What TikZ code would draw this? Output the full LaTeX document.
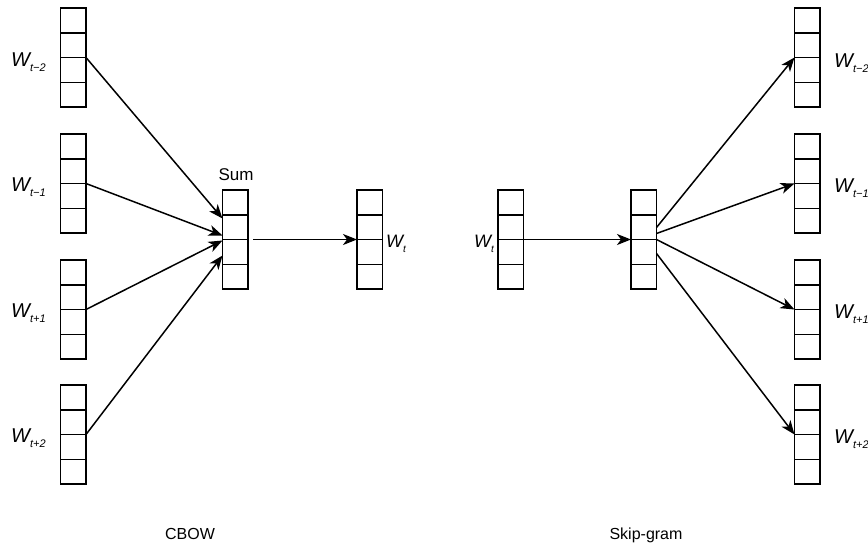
\documentclass[tikz,border=0pt]{standalone}
\usepackage{fontspec}
\setmainfont{Liberation Sans}
\usetikzlibrary{arrows.meta}
\tikzset{
  vecnode/.style={draw, line width=1.5pt, minimum width=25.5pt, minimum height=99pt, inner sep=0pt, outer sep=0pt, anchor=north west},
  arr/.style={line width=1.5pt, -{Stealth[length=14pt,width=11pt,inset=4pt]}},
  ln/.style={line width=1.5pt},
  wlab/.style={anchor=base west, inner sep=0pt},
  plain/.style={anchor=base, inner sep=0pt, font=\fontsize{16}{16}\selectfont}
}
\newcommand\wvec[3]{%
  \node[vecnode] (#1) at (#2,#3) {};
  \foreach \k in {1,2,3} \draw[ln] ([yshift=-\k*24.75pt]#1.north west) -- ([yshift=-\k*24.75pt]#1.north east);
}
\newcommand\wlabel[1]{{\fontsize{20}{20}\selectfont\itshape W}\raisebox{-5.5pt}{\fontsize{11}{11}\selectfont\itshape #1}}
\newcommand\wlabelsm[1]{{\fontsize{18}{18}\selectfont\itshape W}\raisebox{-5pt}{\fontsize{10}{10}\selectfont\itshape #1}}
\begin{document}
\begin{tikzpicture}[x=1pt,y=-1pt]
\useasboundingbox (0,0) rectangle (868,547);
% CBOW inputs
\wvec{L1}{60.5}{8}
\wvec{L2}{60.5}{134}
\wvec{L3}{60.5}{260}
\wvec{L4}{60.5}{385}
\node[wlab] (l1) at (11,66) {\wlabel{t−2}};
\node[wlab] (l2) at (11,191) {\wlabel{t−1}};
\node[wlab] (l3) at (11,317) {\wlabel{t+1}};
\node[wlab] (l4) at (11,442) {\wlabel{t+2}};
% Sum
\wvec{S}{222.5}{190}
\node[plain, font=\fontsize{17}{17}\selectfont] (sumlab) at (236,180) {Sum};
% CBOW output
\wvec{O}{357}{190}
\node[wlab] (olab) at (386,247) {\wlabelsm{t}};
\coordinate (sout) at ([xshift=5pt]S.east);
% arrows CBOW
\draw[arr] (L1.east) -- ([yshift=21pt]S.west);
\draw[arr] (L2.east) -- ([yshift=4pt]S.west);
\draw[arr] (L3.east) -- ([yshift=-1pt]S.west);
\draw[arr] (L4.east) -- ([yshift=-16pt]S.west);
\draw[arr] (sout) -- (O.west);
% Skip-gram
\wvec{I}{498}{190}
\node[wlab] (ilab) at (474,247) {\wlabelsm{t}};
\wvec{H}{631}{190}
\wvec{R1}{794.5}{8}
\wvec{R2}{794.5}{134}
\wvec{R3}{794.5}{260}
\wvec{R4}{794.5}{385}
\node[wlab] (r1) at (834,67) {\wlabel{t−2}};
\node[wlab] (r2) at (834,192) {\wlabel{t−1}};
\node[wlab] (r3) at (834,318) {\wlabel{t+1}};
\node[wlab] (r4) at (834,443) {\wlabel{t+2}};
\draw[arr] (I.east) -- (H.west);
\draw[arr] ([yshift=12pt]H.east) -- (R1.west);
\draw[arr] ([yshift=6pt]H.east) -- (R2.west);
\draw[arr] (H.east) -- (R3.west);
\draw[arr] ([yshift=-14pt]H.east) -- (R4.west);
% captions
\node[plain] (cbow) at (190,539) {CBOW};
\node[plain] (skip) at (646,539) {Skip-gram};
\end{tikzpicture}
\end{document}
